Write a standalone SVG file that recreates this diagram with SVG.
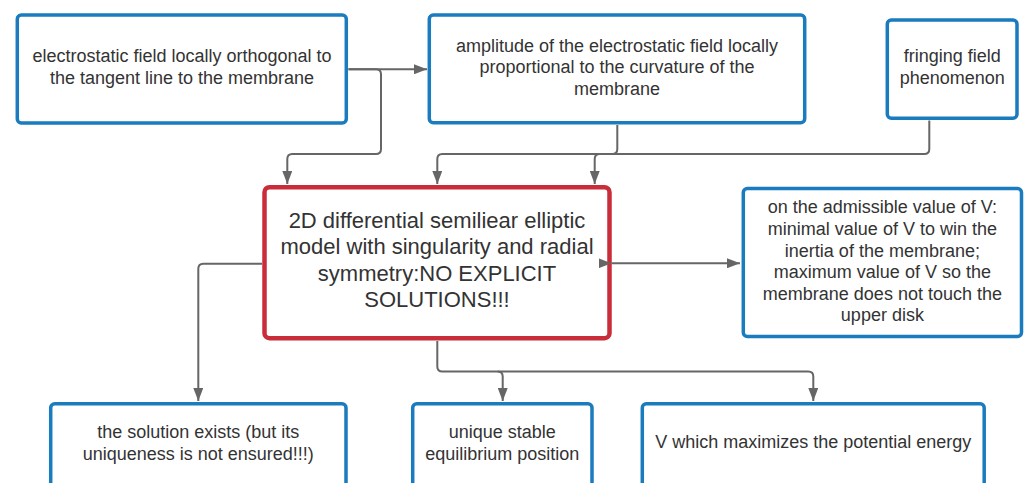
<svg xmlns="http://www.w3.org/2000/svg" width="1027" height="483" viewBox="0 0 1027 483">
<defs>
<marker id="arr" markerWidth="14" markerHeight="10" refX="13" refY="5" orient="auto" markerUnits="userSpaceOnUse"><path d="M0,0 L13,5 L0,10 Z" fill="#666666"/></marker>
<marker id="arrs" markerWidth="14" markerHeight="10" refX="13" refY="5" orient="auto" markerUnits="userSpaceOnUse"><path d="M0,0 L13,5 L0,10 Z" fill="#666666"/></marker>
<style>
.blue{fill:#ffffff;stroke:#1a7bbf;stroke-width:3.5}
.red{fill:#ffffff;stroke:#c92d39;stroke-width:4.5}
.t{font-family:"Liberation Sans",Arial,sans-serif;font-size:18px;fill:#333333;text-anchor:middle}
.tb{font-family:"Liberation Sans",Arial,sans-serif;font-size:22px;fill:#333333;text-anchor:middle}
.c{fill:none;stroke:#666666;stroke-width:2}
</style>
</defs>
<rect width="1027" height="483" fill="#ffffff"/>
<g id="n1">
<rect class="blue" x="17.3" y="15" width="329" height="108" rx="4"/>
<text class="t" x="182" y="62">electrostatic field locally orthogonal to</text>
<text class="t" x="182" y="83.5">the tangent line to the membrane</text>
</g>
<g id="n2">
<rect class="blue" x="429.3" y="15" width="375.4" height="107.7" rx="4"/>
<text class="t" x="617" y="51.5">amplitude of the electrostatic field locally</text>
<text class="t" x="617" y="73">proportional to the curvature of the</text>
<text class="t" x="617" y="94.5">membrane</text>
</g>
<g id="n3">
<rect class="blue" x="887.3" y="20" width="129.7" height="98.3" rx="4"/>
<text class="t" x="952.2" y="62">fringing field</text>
<text class="t" x="952.2" y="83.5">phenomenon</text>
</g>
<g id="n4">
<rect class="red" x="264.5" y="187.2" width="345" height="151" rx="5"/>
<text class="tb" x="437" y="228">2D differential semiliear elliptic</text>
<text class="tb" x="437" y="254.3">model with singularity and radial</text>
<text class="tb" x="437" y="280.6">symmetry:NO EXPLICIT</text>
<text class="tb" x="437" y="306.9">SOLUTIONS!!!</text>
</g>
<g id="n5">
<rect class="blue" x="743.3" y="188.5" width="278.2" height="148" rx="4"/>
<text class="t" x="882.4" y="213.3">on the admissible value of V:</text>
<text class="t" x="882.4" y="234.9">minimal value of V to win the</text>
<text class="t" x="882.4" y="256.5">inertia of the membrane;</text>
<text class="t" x="882.4" y="278.1">maximum value of V so the</text>
<text class="t" x="882.4" y="299.7">membrane does not touch the</text>
<text class="t" x="882.4" y="321.3">upper disk</text>
</g>
<g id="n6">
<rect class="blue" x="50.7" y="403.7" width="295.3" height="90" rx="4"/>
<text class="t" x="198.3" y="438.3">the solution exists (but its</text>
<text class="t" x="198.3" y="459.9">uniqueness is not ensured!!!)</text>
</g>
<g id="n7">
<rect class="blue" x="412.7" y="403.7" width="179.3" height="90" rx="4"/>
<text class="t" x="502.3" y="438.3">unique stable</text>
<text class="t" x="502.3" y="459.9">equilibrium position</text>
</g>
<g id="n8">
<rect class="blue" x="642.3" y="403.7" width="341.9" height="90" rx="4"/>
<text class="t" x="813.3" y="448.3">V which maximizes the potential energy</text>
</g>
<g id="connectors">
<path class="c" d="M348.5,69.3 L427,69.3" marker-end="url(#arr)"/>
<path class="c" d="M348.5,69.3 H376 Q381,69.3 381,74.3 V149 Q381,154 376,154 H292.3 Q287.3,154 287.3,159 V184" marker-end="url(#arr)"/>
<path class="c" d="M617.3,125 V149 Q617.3,154 612.3,154 H442.3 Q437.3,154 437.3,159 V184" marker-end="url(#arr)"/>
<path class="c" d="M929.3,120.5 V149 Q929.3,154 924.3,154 H599.7 Q594.7,154 594.7,159 V184" marker-end="url(#arr)"/>
<path class="c" d="M611.5,263.3 L740,263.3" marker-start="url(#arrs)" marker-end="url(#arr)"/>
<path class="c" d="M262,263.8 H203.3 Q198.3,263.8 198.3,268.8 V401" marker-end="url(#arr)"/>
<path class="c" d="M437.3,341 V366.5 Q437.3,371.5 442.3,371.5 H808.3 Q813.3,371.5 813.3,376.5 V401" marker-end="url(#arr)"/>
<path class="c" d="M497.7,371.5 Q502.7,371.5 502.7,376.5 V401" marker-end="url(#arr)"/>
</g>
</svg>
